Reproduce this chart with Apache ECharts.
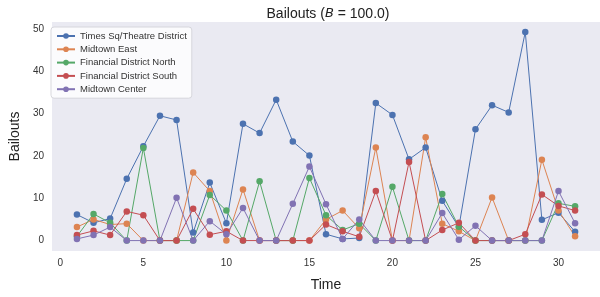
<!DOCTYPE html>
<html>
<head>
<meta charset="utf-8">
<script src="https://cdn.jsdelivr.net/npm/echarts@6/dist/echarts.min.js"></script>
<style>
  html, body { margin: 0; padding: 0; background: #fff; }
  #chart { width: 600px; height: 297px; }
</style>
</head>
<body>
<div id="chart"></div>
<script>
// 时间轴 1..31
var times = [];
for (var t = 1; t <= 31; t++) times.push(t);

var names = ['Times Sq/Theatre District', 'Midtown East', 'Financial District North', 'Financial District South', 'Midtown Center'];
var colors = ['#4C72B0', '#DD8452', '#55A868', '#C44E52', '#8172B3'];

var timesSq = [6.15, 4.2, 5.2, 14.6, 22.3, 29.5, 28.5, 1.9, 13.7, 4.1, 27.6, 25.4, 33.3, 23.4, 20.1, 1.5, 0.4, 0.6, 32.5, 29.7, 19.2, 22.0, 9.4, 3.2, 26.3, 32.0, 30.3, 49.3, 4.9, 6.6, 2.1];
var midtownEast = [3.2, 5.0, 3.8, 4.0, 0, 0, 0, 16.1, 11.7, 0, 12.1, 0, 0, 0, 0, 5.0, 7.1, 2.9, 22.0, 0, 0, 24.4, 4.0, 2.2, 0, 10.2, 0, 0, 19.1, 7.1, 1.0];
var finNorth = [1.0, 6.3, 4.2, 0, 21.9, 0, 0, 0, 10.8, 7.1, 0, 14.0, 0, 0, 14.8, 6.0, 2.5, 4.0, 0, 12.7, 0, 0, 11.0, 3.3, 0, 0, 0, 0, 0, 8.8, 8.1];
var finSouth = [1.3, 2.3, 1.3, 6.9, 6.0, 0, 0, 7.5, 1.4, 2.2, 0, 0, 0, 0, 0, 3.8, 2.2, 0.9, 11.7, 0, 18.6, 0, 2.5, 4.2, 0, 0, 0, 1.5, 10.9, 8.2, 7.1];
var midtownCenter = [0.4, 1.3, 3.2, 0, 0, 0, 10.1, 0, 4.6, 1.5, 7.7, 0, 0, 8.7, 17.5, 8.6, 0.4, 5.0, 0, 0, 0, 0, 6.5, 0.2, 3.5, 0, 0, 0, 0, 11.7, 4.1];

var xTicks = [0, 5, 10, 15, 20, 25, 30];
var yTicks = [0, 10, 20, 30, 40, 50];

var allData = [timesSq, midtownEast, finNorth, finSouth, midtownCenter];

var chart = echarts.init(document.getElementById('chart'));

var series = allData.map(function (vals, i) {
    return {
        name: names[i],
        type: 'line',
        data: vals.map(function (v, k) { return [times[k], v]; }),
        symbol: 'circle',
        symbolSize: 6.5,
        showSymbol: true,
        lineStyle: { width: 1, color: colors[i] },
        itemStyle: { color: colors[i] },
        emphasis: { disabled: true }
    };
});

var font = 'Liberation Sans, Arial, sans-serif';

var option = {
    animation: false,
    textStyle: { fontFamily: font },
    title: {
        text: 'Bailouts ({i|B} = 100.0)',
        left: 323,
        top: 2,
        textAlign: 'center',
        textStyle: {
            fontFamily: font,
            fontSize: 14,
            fontWeight: 'normal',
            color: '#222',
            rich: {
                i: { fontFamily: 'DejaVu Sans', fontStyle: 'italic', fontSize: 13, color: '#222' }
            }
        }
    },
    legend: {
        orient: 'vertical',
        left: 51,
        top: 27,
        padding: [4, 5, 4, 5],
        itemWidth: 18,
        itemHeight: 7,
        itemGap: 3.3,
        backgroundColor: 'rgba(255,255,255,0.8)',
        borderColor: '#d6d6dc',
        borderWidth: 1,
        borderRadius: 3,
        textStyle: { fontFamily: font, fontSize: 9.5, color: '#333', lineHeight: 7 },
        data: names
    },
    grid: {
        show: true,
        left: 47,
        right: 0,
        top: 22,
        bottom: 40,
        backgroundColor: '#EAEAF2',
        borderWidth: 0
    },
    xAxis: {
        type: 'value',
        min: -0.5,
        max: 32.5,
        name: 'Time',
        nameLocation: 'middle',
        nameGap: 27,
        nameTextStyle: { fontFamily: font, fontSize: 14, color: '#222' },
        axisLine: { show: false },
        axisTick: { show: false },
        splitLine: { show: false },
        axisLabel: {
            customValues: xTicks,
            fontSize: 10,
            color: '#333',
            margin: 7
        }
    },
    yAxis: {
        type: 'value',
        min: -2.46,
        max: 51.66,
        name: 'Bailouts',
        nameLocation: 'middle',
        nameGap: 23,
        nameTextStyle: { fontFamily: font, fontSize: 14, color: '#222' },
        axisLine: { show: false },
        axisTick: { show: false },
        splitLine: { show: false },
        axisLabel: {
            customValues: yTicks,
            fontSize: 10,
            color: '#333',
            margin: 8
        }
    },
    series: series
};

chart.setOption(option);
</script>
</body>
</html>
